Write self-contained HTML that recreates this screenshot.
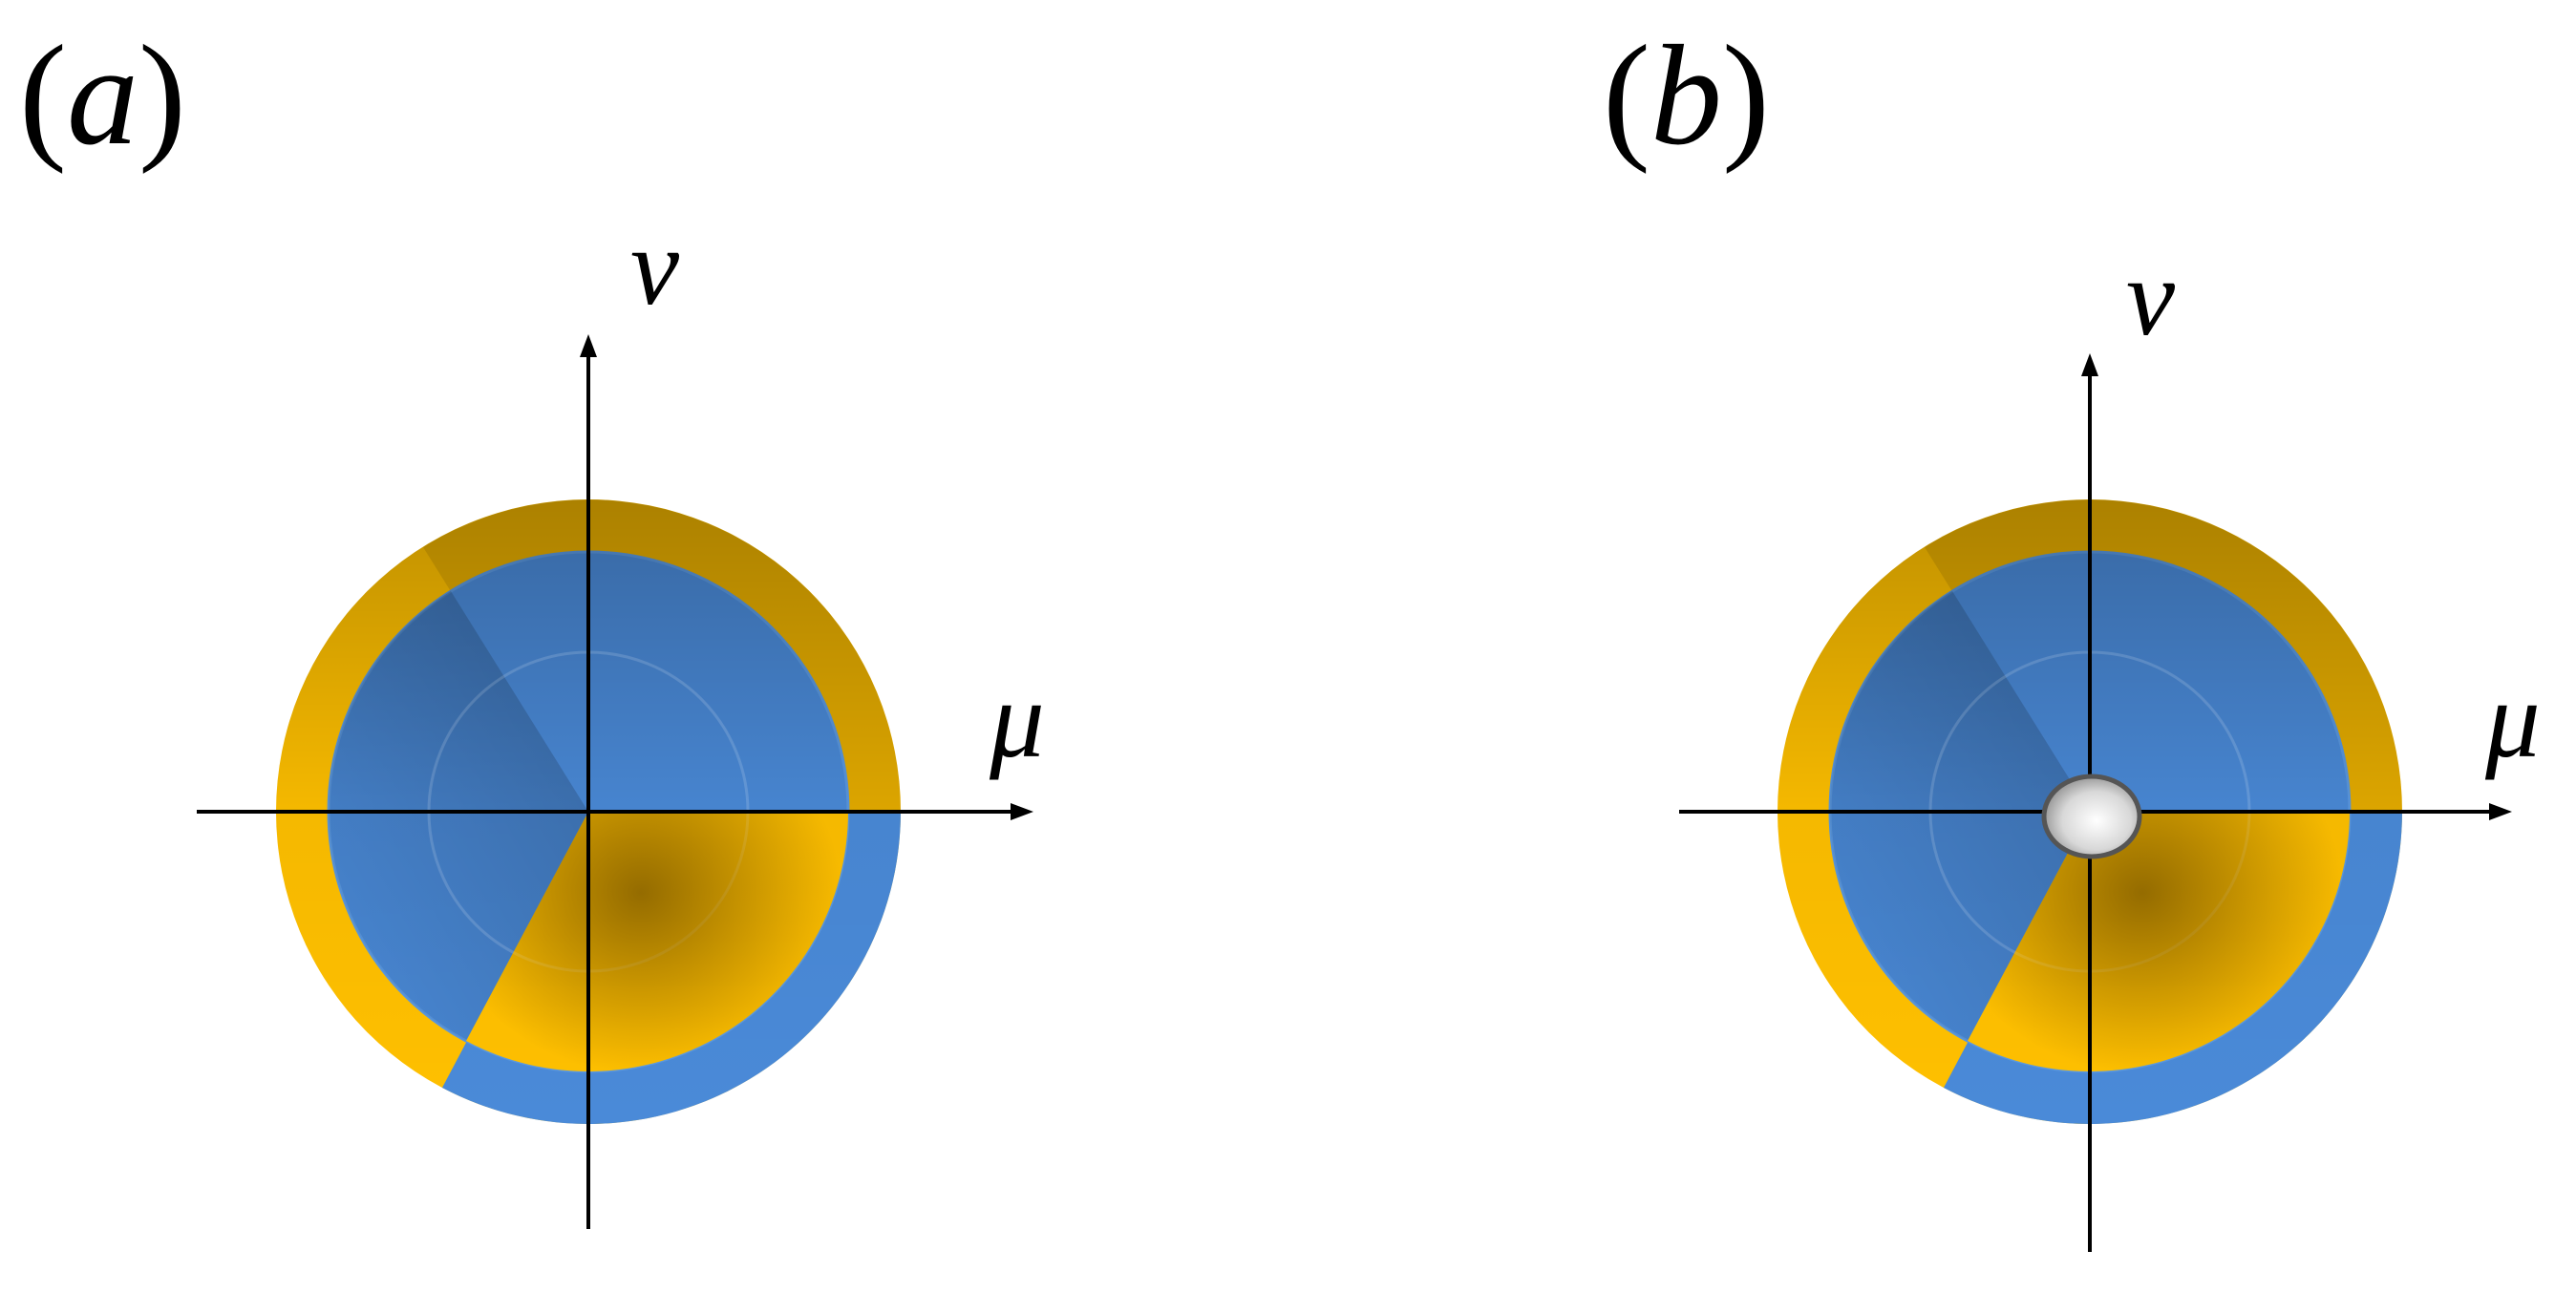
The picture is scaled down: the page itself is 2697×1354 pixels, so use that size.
<!DOCTYPE html>
<html><head><meta charset="utf-8"><style>
html,body{margin:0;padding:0;background:#fff;}
svg{display:block;}
text{font-family:"Liberation Serif",serif;fill:#000;}
.it{font-style:italic;}
</style></head><body>
<svg width="2697" height="1354" viewBox="0 0 2697 1354" xmlns="http://www.w3.org/2000/svg">
<defs>
<linearGradient id="topdark" x1="0" y1="0" x2="0" y2="1">
<stop offset="0" stop-color="#000" stop-opacity="0.25"/>
<stop offset="0.5" stop-color="#000" stop-opacity="0.04"/>
<stop offset="1" stop-color="#000" stop-opacity="0"/>
</linearGradient>
<linearGradient id="leftdark" x1="1" y1="0" x2="0" y2="1">
<stop offset="0" stop-color="#000" stop-opacity="0.22"/>
<stop offset="1" stop-color="#000" stop-opacity="0"/>
</linearGradient>
<radialGradient id="spot" cx="0.5" cy="0.5" r="0.5">
<stop offset="0" stop-color="#6a4a00" stop-opacity="0.7"/>
<stop offset="1" stop-color="#6a4a00" stop-opacity="0"/>
</radialGradient>
<radialGradient id="metal" cx="0.55" cy="0.55" r="0.6">
<stop offset="0" stop-color="#ffffff"/>
<stop offset="0.6" stop-color="#d8d8d8"/>
<stop offset="1" stop-color="#8a8a8a"/>
</radialGradient>
<clipPath id="yclip"><path d="M0,0 L-128,240 A272,272 0 0 0 272,0 Z"/></clipPath>
<g id="disk">
<circle cx="0" cy="0" r="327" fill="#ffc000"/>
<path d="M0,0 L327,0 A327,327 0 0 0 -173,-277 Z" fill="#000" opacity="0.1"/>
<path d="M0,0 L-153,289 A327,327 0 0 0 327,0 Z" fill="#4a8ad8"/>
<circle cx="0" cy="0" r="272" fill="#4a8ad8" stroke="#5a98e0" stroke-width="3"/>
<path d="M0,0 L-128,240 A272,272 0 0 0 272,0 Z" fill="#ffc000"/>
<path d="M0,0 L-144,-231 A272,272 0 0 0 -128,240 Z" fill="url(#leftdark)"/>
<circle cx="0" cy="0" r="327" fill="url(#topdark)"/>
<circle cx="0" cy="0" r="167" fill="none" stroke="#fff" stroke-opacity="0.15" stroke-width="3"/>
<g clip-path="url(#yclip)"><ellipse cx="55" cy="85" rx="210" ry="190" fill="url(#spot)"/></g>
</g>
</defs>

<!-- Panel a -->
<text x="20" y="150" font-size="150">(<tspan class="it">a</tspan>)</text>
<use href="#disk" x="616" y="850"/>
<line x1="206" y1="850" x2="1066" y2="850" stroke="#000" stroke-width="4"/>
<polygon points="1082,850 1058,841 1058,859" fill="#000"/>
<line x1="616" y1="1287" x2="616" y2="365" stroke="#000" stroke-width="4"/>
<polygon points="616,350 607,374 625,374" fill="#000"/>
<text class="it" x="660" y="318" font-size="115">ν</text>
<text class="it" x="1036" y="792" font-size="115">μ</text>

<!-- Panel b -->
<text x="1678" y="150" font-size="150">(<tspan class="it">b</tspan>)</text>
<use href="#disk" x="2188" y="850"/>
<line x1="1758" y1="850" x2="2614" y2="850" stroke="#000" stroke-width="4"/>
<polygon points="2630,850 2606,841 2606,859" fill="#000"/>
<line x1="2188" y1="1311" x2="2188" y2="385" stroke="#000" stroke-width="4"/>
<polygon points="2188,370 2179,394 2197,394" fill="#000"/>
<text class="it" x="2226" y="350" font-size="115">ν</text>
<text class="it" x="2602" y="792" font-size="115">μ</text>
<ellipse cx="2190" cy="855" rx="50" ry="42" fill="url(#metal)" stroke="#555" stroke-width="5"/>
</svg>
</body></html>
